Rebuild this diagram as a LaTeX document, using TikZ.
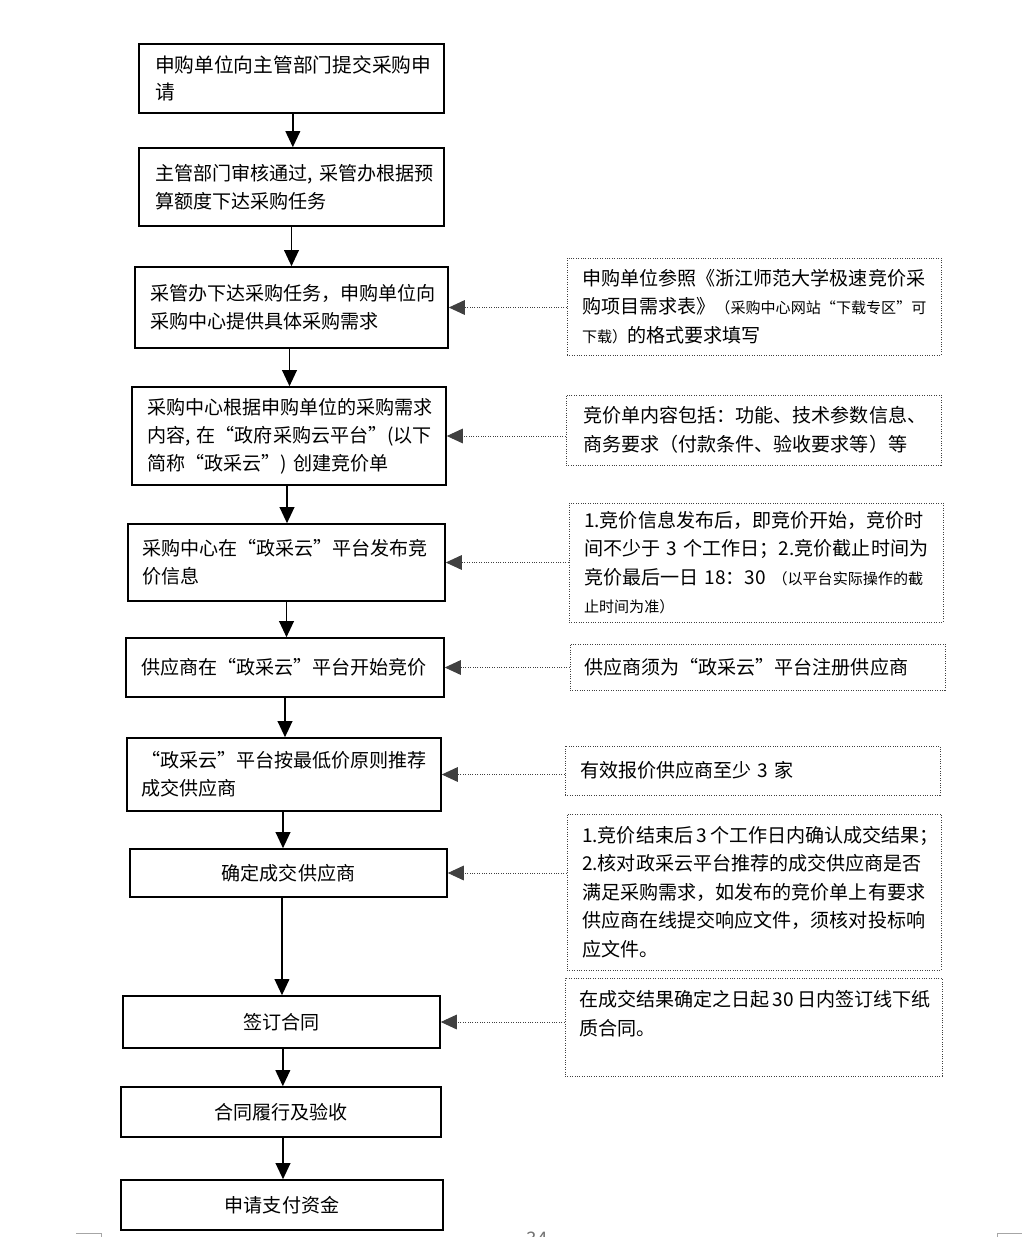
\documentclass[tikz,border=0pt]{standalone}
\usepackage{fontspec}
\setmainfont{Noto Sans CJK SC}
\usetikzlibrary{arrows.meta,calc}
\begin{document}
\begin{tikzpicture}[x=0.75pt,y=-0.75pt,
  mainbox/.style={draw=black, line width=1.2pt, inner sep=0pt, align=left,
    font=\fontsize{14.3}{21}\selectfont},
  cbox/.style={mainbox, align=center},
  notebox/.style={draw=black!75, line width=0.7pt, dash pattern=on 0.7pt off 1.1pt,
    inner sep=0pt, align=left, font=\fontsize{14.3}{21.3}\selectfont},
  flow/.style={line width=1.1pt, -{Triangle[length=12pt,width=11pt]}},
  hint/.style={draw=black!75, line width=0.7pt, dash pattern=on 0.7pt off 1.1pt,
    -{Triangle[length=12pt,width=11pt]}},
  pagemark/.style={draw=black!35, line width=0.6pt}
]
\useasboundingbox (0,0) rectangle (1022,1237);
\newcommand\smalltxt[1]{{\fontsize{11.3}{21.3}\selectfont #1}}

% main flow boxes
\node[mainbox, font=\fontsize{14.8}{20.5}\selectfont, minimum width=228.75pt, minimum height=51.75pt, text width=204.75pt] (b1) at (291.5,78.5)
  {申购单位向主管部门提交采购申\\请};
\node[mainbox, minimum width=228.75pt, minimum height=58.5pt, text width=204.75pt] (b2) at (291.5,187)
  {主管部门审核通过,~采管办根据预\\算额度下达采购任务};
\node[mainbox, minimum width=234.75pt, minimum height=60.75pt, text width=212.25pt] (b3) at (291.5,307.5)
  {采管办下达采购任务，申购单位向\\采购中心提供具体采购需求};
\node[mainbox, minimum width=235.5pt, minimum height=73.5pt, text width=213pt] (b4) at (289,436)
  {采购中心根据申购单位的采购需求\\内容,~在“政府采购云平台”(以下\\简称“政采云”)~创建竞价单};
\node[mainbox, minimum width=237.75pt, minimum height=57.75pt, text width=216.75pt] (b5) at (286.5,562.5)
  {采购中心在“政采云”平台发布竞\\价信息};
\node[mainbox, minimum width=238.5pt, minimum height=44.25pt, text width=216pt] (b6) at (285,667.5)
  {供应商在“政采云”平台开始竞价};
\node[mainbox, minimum width=235.5pt, minimum height=54.75pt, text width=214.5pt] (b7) at (284,774.5)
  {“政采云”平台按最低价原则推荐\\成交供应商};
\node[cbox, minimum width=237.75pt, minimum height=36pt] (b8) at (288.5,873) {确定成交供应商};
\node[cbox, minimum width=237.75pt, minimum height=39pt] (b9) at (281.5,1022) {签订合同};
\node[cbox, minimum width=240pt, minimum height=37.5pt] (b10) at (281,1112) {合同履行及验收};
\node[cbox, minimum width=241.5pt, minimum height=37.5pt] (b11) at (282,1205) {申请支付资金};

% note boxes
\node[notebox, minimum width=280.5pt, minimum height=72.75pt, text width=258pt] (nA) at (754,306.5)
  {申购单位参照《浙江师范大学极速竞价采\\购项目需求表》\smalltxt{（采购中心网站“下载专区”可}\\\smalltxt{下载）}的格式要求填写};
\node[notebox, minimum width=281.25pt, minimum height=52.5pt, text width=255.75pt] (nB) at (753.5,430)
  {竞价单内容包括：功能、技术参数信息、\\商务要求（付款条件、验收要求等）等};
\node[notebox, minimum width=280.5pt, minimum height=89.25pt, text width=258pt] (nC) at (756,562.5)
  {1.竞价信息发布后，即竞价开始，竞价时\\间不少于~3~个工作日；2.竞价截止时间为\\竞价最后一日~18：30~\smalltxt{（以平台实际操作的截}\\\smalltxt{止时间为准）}};
\node[notebox, minimum width=281.25pt, minimum height=34.5pt, text width=260.25pt] (nD) at (757.5,667)
  {供应商须为“政采云”平台注册供应商};
\node[notebox, minimum width=281.25pt, minimum height=36.75pt, text width=258.75pt] (nE) at (752.5,770.5)
  {有效报价供应商至少~3~家};
\node[notebox, minimum width=280.5pt, minimum height=117pt, text width=258pt] (nF) at (754,892)
  {1.竞价结束后\,3\,个工作日内确认成交结果；\\2.核对政采云平台推荐的成交供应商是否\\满足采购需求，如发布的竞价单上有要求\\供应商在线提交响应文件，须核对投标响\\应文件。};
\node[notebox, minimum width=282.75pt, minimum height=73.5pt, text width=261.75pt] (nG) at (753.5,1027)
  {在成交结果确定之日起\,30\,日内签订线下纸\\质合同。\\\mbox{}};

% flow arrows
\draw[flow] ([xshift=1pt]b1.south) -- ([xshift=1pt]b1.south |- b2.north);
\draw[flow] (b2.south) -- (b2.south |- b3.north);
\draw[flow] ([xshift=-1.5pt]b3.south) -- ([xshift=-1.5pt]b3.south |- b4.north);
\draw[flow] ([xshift=-1.5pt]b4.south) -- ([xshift=-1.5pt]b4.south |- b5.north);
\draw[flow] (b5.south) -- (b5.south |- b6.north);
\draw[flow] (b6.south) -- (b6.south |- b7.north);
\draw[flow] ([xshift=-0.75pt]b7.south) -- ([xshift=-0.75pt]b7.south |- b8.north);
\draw[flow] ([xshift=-4.9pt]b8.south) -- ([xshift=-4.9pt]b8.south |- b9.north);
\draw[flow] ([xshift=1pt]b9.south) -- ([xshift=1pt]b9.south |- b10.north);
\draw[flow] ([xshift=1.5pt]b10.south) -- ([xshift=1.5pt]b10.south |- b11.north);

% hint arrows
\draw[hint] (nA.west |- b3.east) -- (b3.east);
\draw[hint] (nB.west |- b4.east) -- (b4.east);
\draw[hint] (nC.west |- b5.east) -- (b5.east);
\draw[hint] (nD.west |- b6.east) -- (b6.east);
\draw[hint] (nE.west |- b7.east) -- (b7.east);
\draw[hint] (nF.west |- b8.east) -- (b8.east);
\draw[hint] (nG.west |- b9.east) -- (b9.east);

% page marks at the bottom edge
\coordinate (ml1) at (76,1233);
\coordinate (ml2) at (101,1233);
\coordinate (ml3) at (101,1240);
\draw[pagemark] (ml1) -- (ml2) -- (ml3);
\coordinate (mr1) at (997,1240);
\coordinate (mr2) at (997,1233);
\coordinate (mr3) at (1022,1233);
\draw[pagemark] (mr1) -- (mr2) -- (mr3);
\node[font=\fontsize{14}{14}\selectfont, text=black!55, anchor=north, inner sep=0pt] (pg) at (537,1231.5) {34};
\end{tikzpicture}
\end{document}
